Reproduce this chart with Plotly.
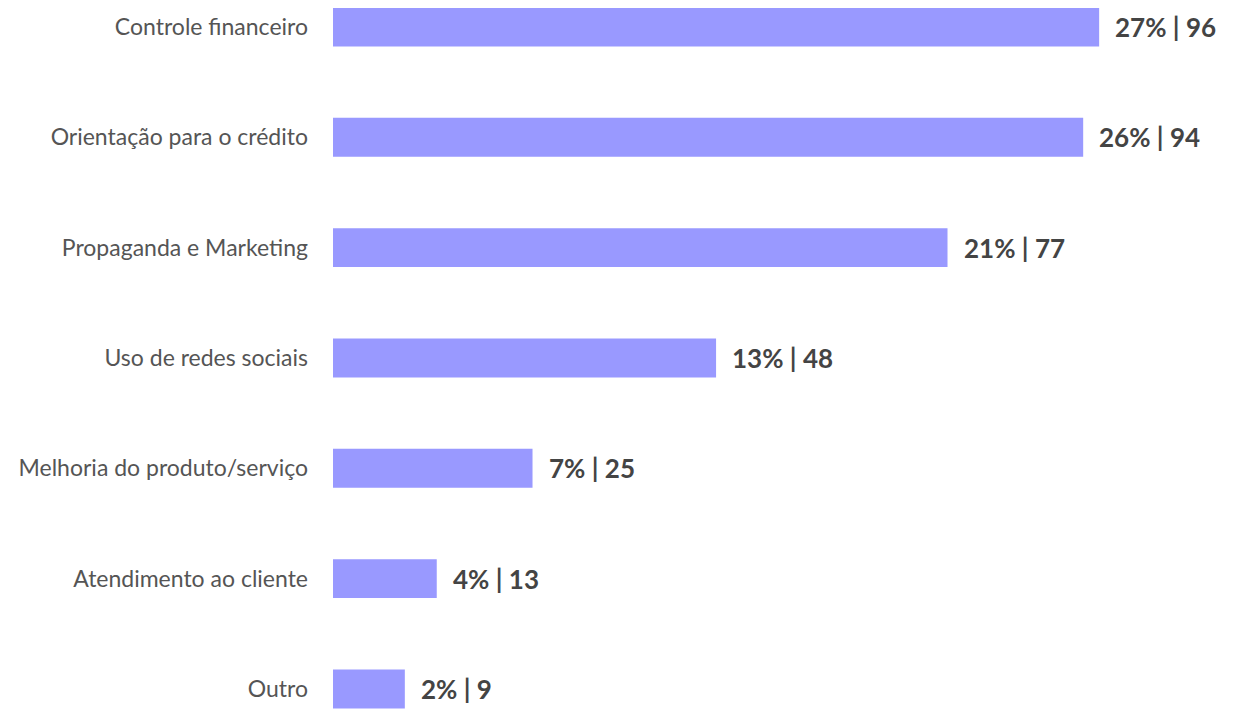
import plotly.graph_objects as go

categories = ["Controle financeiro", "Orientação para o crédito", "Propaganda e Marketing",
              "Uso de redes sociais", "Melhoria do produto/serviço", "Atendimento ao cliente", "Outro"]
counts = [96, 94, 77, 48, 25, 13, 9]
percents = [27, 26, 21, 13, 7, 4, 2]

ypos = list(range(len(categories)))

fig = go.Figure()
fig.add_trace(go.Bar(
    x=counts, y=ypos, orientation="h", width=0.353,
    marker=dict(color="#9999ff", line=dict(width=0)),
    hoverinfo="skip",
))

for yy, c, p in zip(ypos, counts, percents):
    fig.add_annotation(x=c, y=yy, xref="x", yref="y", text=f"<b>{p}% | {c}</b>",
                       showarrow=False, xanchor="left", yanchor="middle", xshift=14,
                       font=dict(family="Lato", size=26, color="#444444"))

fig.update_layout(
    width=1234, height=703,
    margin=dict(l=325, r=0, t=0, b=0),
    paper_bgcolor="white", plot_bgcolor="white",
    showlegend=False,
    font=dict(family="Lato", color="#555555"),
    xaxis=dict(range=[0, 113.9], visible=False, fixedrange=True),
    yaxis=dict(range=[6.2, -0.172], tickmode="array", tickvals=ypos, ticktext=categories,
               showgrid=False, zeroline=False, showline=False, ticks="",
               ticklabelstandoff=24, tickfont=dict(family="Lato", size=23, color="#555555")),
)

fig.write_html("out.html")
